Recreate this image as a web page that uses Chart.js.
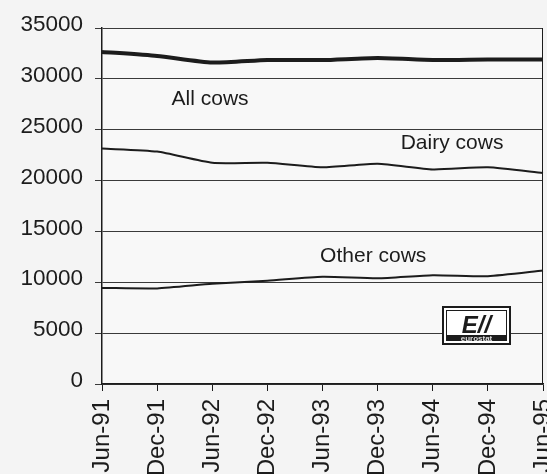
<!DOCTYPE html>
<html lang="en">
<head>
  <meta charset="UTF-8">
  <title>Cows</title>
  <script src="https://cdn.jsdelivr.net/npm/chart.js@4.4.0/dist/chart.umd.min.js"></script>
  <style>
    html, body { margin: 0; padding: 0; background: #f4f4f4; }
    #wrap { width: 547px; height: 474px; }
  </style>
</head>
<body>
  <div id="wrap"><canvas id="cows"></canvas></div>
  <script>
    // Data (thousand head)
    const months = ['Jun-91', 'Dec-91', 'Jun-92', 'Dec-92', 'Jun-93', 'Dec-93', 'Jun-94', 'Dec-94', 'Jun-95'];
    const allCows = [32650, 32250, 31600, 31850, 31850, 32050, 31850, 31900, 31900];
    const dairyCows = [23150, 22850, 21750, 21750, 21300, 21650, 21100, 21300, 20750];
    const otherCows = [9450, 9400, 9850, 10150, 10550, 10400, 10700, 10600, 11150];

    // Series names written inside the plot: [text, x index, y value]
    const seriesLabels = [
      ['All cows', 1.96, 28000],
      ['Dairy cows', 6.35, 23650],
      ['Other cows', 4.92, 12600]
    ];

    const ink = '#1c1c1c';

    // Background, right border, in-plot labels and eurostat logo
    const decor = {
      id: 'decor',
      beforeDraw(chart) {
        const { ctx, chartArea: a } = chart;
        ctx.save();
        ctx.fillStyle = '#f4f4f4';
        ctx.fillRect(0, 0, chart.width, chart.height);
        ctx.fillStyle = '#f8f8f8';
        ctx.fillRect(a.left, a.top, a.right - a.left, a.bottom - a.top);
        ctx.restore();
      },
      afterDraw(chart) {
        const { ctx, chartArea: a, scales } = chart;
        ctx.save();
        ctx.strokeStyle = ink;
        ctx.lineWidth = 1;
        ctx.beginPath();
        ctx.moveTo(a.right - 0.5, a.top);
        ctx.lineTo(a.right - 0.5, a.bottom);
        ctx.stroke();

        ctx.fillStyle = ink;
        ctx.font = '21px "Liberation Sans", Arial, sans-serif';
        ctx.textAlign = 'center';
        ctx.textBaseline = 'middle';
        seriesLabels.forEach(([t, xi, yv]) => {
          ctx.fillText(t, scales.x.getPixelForValue(xi), scales.y.getPixelForValue(yv));
        });

        // eurostat logo
        const lx = 442, ly = 306, lw = 69, lh = 39;
        ctx.fillStyle = '#ffffff';
        ctx.fillRect(lx, ly, lw, lh);
        ctx.lineWidth = 2;
        ctx.strokeRect(lx + 1, ly + 1, lw - 2, lh - 2);
        ctx.lineWidth = 1;
        ctx.strokeRect(lx + 4.5, ly + 4.5, lw - 9, lh - 9);
        ctx.fillStyle = ink;
        ctx.font = 'italic bold 24px "Liberation Sans", Arial, sans-serif';
        ctx.textAlign = 'center';
        ctx.textBaseline = 'alphabetic';
        ctx.fillText('E//', lx + lw / 2, ly + 27);
        ctx.fillRect(lx + 5, ly + 29, lw - 10, 6);
        ctx.fillStyle = '#dddddd';
        ctx.font = 'bold 8px "Liberation Sans", Arial, sans-serif';
        ctx.fillText('eurostat', lx + lw / 2, ly + 34.5);
        ctx.restore();
      }
    };

    const line = (data, width) => ({
      data,
      borderColor: ink,
      borderWidth: width,
      pointRadius: 0,
      tension: 0.2,
      fill: false
    });

    new Chart(document.getElementById('cows'), {
      type: 'line',
      data: {
        labels: months,
        datasets: [line(allCows, 4), line(dairyCows, 2), line(otherCows, 2)]
      },
      options: {
        responsive: true,
        maintainAspectRatio: false,
        animation: false,
        layout: { padding: { top: 28, right: 4, left: 0, bottom: 0 } },
        plugins: { legend: { display: false }, tooltip: { enabled: false } },
        scales: {
          x: {
            grid: { drawOnChartArea: false, drawTicks: true, tickLength: 7, color: ink },
            border: { color: ink, width: 1.5 },
            ticks: {
              color: ink,
              font: { family: '"Liberation Sans", Arial, sans-serif', size: 24 },
              minRotation: 90,
              maxRotation: 90,
              autoSkip: false,
              padding: 8
            },
            afterFit(s) {
              s.height = 90;
              s.paddingLeft = 0;
              s.paddingRight = 0;
            }
          },
          y: {
            min: 0,
            max: 35000,
            grid: { color: '#3a3a3a', lineWidth: 1, tickLength: 7 },
            border: { color: ink, width: 1.5 },
            ticks: {
              stepSize: 5000,
              color: ink,
              padding: 12,
              labelOffset: -3,
              font: { family: '"Liberation Sans", Arial, sans-serif', size: 22.5 },
              callback: v => String(v)
            },
            afterFit(s) {
              s.width = 102;
              s.paddingTop = 0;
              s.paddingBottom = 0;
            }
          }
        }
      },
      plugins: [decor]
    });
  </script>
</body>
</html>
